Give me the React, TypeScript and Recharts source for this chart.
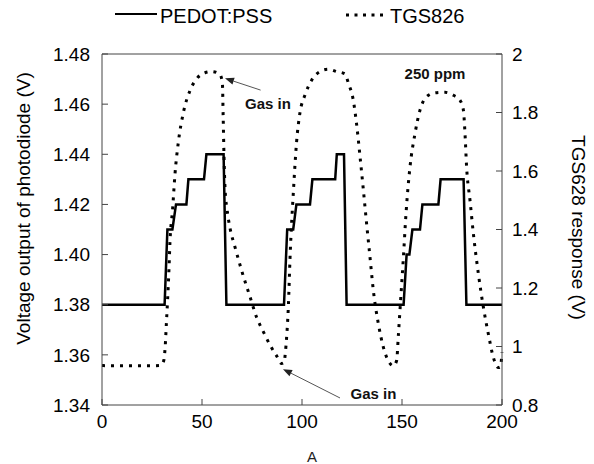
import React from "react";
import {
  ComposedChart,
  Line,
  XAxis,
  YAxis,
  Legend,
  ReferenceLine,
  ReferenceDot,
} from "recharts";

const FONT = "Arial, 'Liberation Sans', Helvetica, sans-serif";

// PEDOT:PSS photodiode output (left axis, V)
const pedotTime = [
  0, 31.3, 32.7, 35.2, 37, 42.2, 43.2, 51, 52.2, 60.8, 62.2,
  91, 92.6, 95.6, 97.2, 104, 105.2, 116.6, 117.4, 121, 122.3,
  150.8, 152.3, 153.7, 155.2, 159, 160.2, 168.2, 169.3, 180.8, 182.2, 200,
];
const pedotVolt = [
  1.38, 1.38, 1.41, 1.41, 1.42, 1.42, 1.43, 1.43, 1.44, 1.44, 1.38,
  1.38, 1.41, 1.41, 1.42, 1.42, 1.43, 1.43, 1.44, 1.44, 1.38,
  1.38, 1.4, 1.4, 1.41, 1.41, 1.42, 1.42, 1.43, 1.43, 1.38, 1.38,
];

// TGS826 response (right axis, V)
const tgsTime = [
  0, 5, 10, 15, 20, 25, 29, 30.8, 31.6, 32.2,
  32.8, 33.4, 34, 35.3, 36.5, 38.2, 40.7, 44, 47.3, 51.5,
  54.8, 59, 60.2, 60.6, 61, 61.6, 62.5, 64, 66.5, 69.8,
  74, 77.3, 80.7, 84, 87.3, 89.8, 91, 91.7, 92.3, 93.2,
  94, 95.7, 97.3, 99, 101.5, 104.8, 109, 113.2, 117.3, 121.5,
  123.2, 125.7, 127.3, 129, 130.7, 132.3, 134, 135.7, 138.2, 140.7,
  143.7, 145.7, 147.3, 148.2, 149.3, 150.7, 152, 154, 156.5, 159,
  162.3, 166.5, 171.5, 175.7, 179, 180.7, 181.5, 182.3, 184, 185.7,
  188.2, 190.7, 193.2, 195.7, 198.2, 199.2, 200,
];
const tgsResp = [
  0.935, 0.934, 0.934, 0.934, 0.934, 0.934, 0.935, 0.95, 1.0, 1.08,
  1.16, 1.25, 1.36, 1.47, 1.59, 1.7, 1.8, 1.875, 1.915, 1.936,
  1.94, 1.93, 1.9, 1.78, 1.65, 1.53, 1.47, 1.405, 1.34, 1.26,
  1.17, 1.1, 1.05, 1.005, 0.968, 0.942, 0.945, 0.98, 1.03, 1.14,
  1.3, 1.53, 1.7, 1.8, 1.86, 1.91, 1.94, 1.948, 1.94, 1.932,
  1.9, 1.84, 1.76, 1.65, 1.534, 1.42, 1.305, 1.19, 1.077, 0.997,
  0.945, 0.934, 0.951, 1.04, 1.157, 1.305, 1.454, 1.614, 1.728, 1.808,
  1.854, 1.867, 1.869, 1.859, 1.842, 1.808, 1.728, 1.614, 1.5, 1.385,
  1.248, 1.134, 1.042, 0.962, 0.928, 0.93, 0.98,
];

const timeTicks = [0, 50, 100, 150, 200];
const voltTicks = [1.34, 1.36, 1.38, 1.4, 1.42, 1.44, 1.46, 1.48];
const respTicks = [0.8, 1, 1.2, 1.4, 1.6, 1.8, 2];
const seriesNames = ["PEDOT:PSS", "TGS826"];

const pedot = pedotTime.map((t, i) => ({ t, v: pedotVolt[i] }));
const tgs = tgsTime.map((t, i) => ({ t, v: tgsResp[i] }));

const FRAME = "#444";
const tickStyle = { fill: "#000", fontSize: 19, fontFamily: FONT };

const Arrow = (p: any) => {
  const { x1, y1, x2, y2 } = p;
  const ang = Math.atan2(y2 - y1, x2 - x1);
  const L = 9;
  const W = 3.5;
  const bx = x2 - L * Math.cos(ang);
  const by = y2 - L * Math.sin(ang);
  const pts = [
    [x2, y2],
    [bx + W * Math.sin(ang), by - W * Math.cos(ang)],
    [bx - W * Math.sin(ang), by + W * Math.cos(ang)],
  ]
    .map((q) => q.join(","))
    .join(" ");
  return (
    <g>
      <line x1={x1} y1={y1} x2={bx} y2={by} stroke="#555" strokeWidth={1} />
      <polygon points={pts} fill="#222" />
    </g>
  );
};

const note = (txt: string) => (p: any) => (
  <text
    x={p.cx}
    y={p.cy}
    textAnchor="middle"
    dominantBaseline="central"
    fontFamily={FONT}
    fontSize={15}
    fontWeight="bold"
    fill="#111"
  >
    {txt}
  </text>
);

const renderLegend = () => (
  <svg width={594} height={30} style={{ display: "block" }}>
    <line x1={115} y1={14} x2={157} y2={14} stroke="#000" strokeWidth={2} />
    <text x={160} y={15.5} dominantBaseline="central" fontFamily={FONT} fontSize={20} fill="#000">
      {seriesNames[0]}
    </text>
    <line x1={346} y1={15} x2={386} y2={15} stroke="#000" strokeWidth={3} strokeDasharray="3 5.5" />
    <text x={390} y={15.5} dominantBaseline="central" fontFamily={FONT} fontSize={20} fill="#000">
      {seriesNames[1]}
    </text>
  </svg>
);

export default function App() {
  return (
    <div style={{ position: "absolute", left: 0, top: 0, background: "#fff" }}>
      <ComposedChart width={594} height={464} margin={{ top: 24, right: 0, bottom: 0, left: 0 }}>
        <Legend
          verticalAlign="middle"
          layout="horizontal"
          align="center"
          wrapperStyle={{ top: 0, left: 0, width: 594, height: 30 }}
          content={renderLegend}
        />
        <XAxis
          xAxisId="b"
          type="number"
          dataKey="t"
          domain={[0, 200]}
          ticks={timeTicks}
          height={59}
          stroke={FRAME}
          tickSize={-6}
          tickMargin={16}
          tick={tickStyle}
          label={{
            content: ({ viewBox }: any) => (
              <text
                x={viewBox.x + viewBox.width / 2 + 10}
                y={viewBox.y + 57}
                textAnchor="middle"
                fontFamily={FONT}
                fontSize={15}
                fill="#222"
              >
                A
              </text>
            ),
          }}
        />
        <XAxis
          xAxisId="t"
          orientation="top"
          type="number"
          dataKey="t"
          domain={[0, 200]}
          ticks={timeTicks}
          height={30}
          stroke={FRAME}
          tickSize={-6}
          tick={false}
        />
        <YAxis
          yAxisId="l"
          domain={[1.34, 1.48]}
          ticks={voltTicks}
          width={102}
          stroke={FRAME}
          tickSize={-6}
          tickMargin={18}
          tick={tickStyle}
          tickFormatter={(v: number) => v.toFixed(2)}
          label={{
            content: ({ viewBox }: any) => {
              const x = viewBox.x + 23;
              const y = viewBox.y + viewBox.height / 2 - 21;
              return (
                <text
                  x={x}
                  y={y}
                  transform={`rotate(-90 ${x} ${y})`}
                  textAnchor="middle"
                  dominantBaseline="central"
                  fontFamily={FONT}
                  fontSize={19}
                  fill="#000"
                >
                  Voltage output of photodiode (V)
                </text>
              );
            },
          }}
        />
        <YAxis
          yAxisId="r"
          orientation="right"
          domain={[0.8, 2]}
          ticks={respTicks}
          width={92}
          stroke={FRAME}
          tickSize={-6}
          tickMargin={16}
          tick={tickStyle}
          tickFormatter={(v: number) => String(Number(v.toFixed(1)))}
          label={{
            content: ({ viewBox }: any) => {
              const x = viewBox.x + 76;
              const y = viewBox.y + viewBox.height / 2 - 2;
              return (
                <text
                  x={x}
                  y={y}
                  transform={`rotate(90 ${x} ${y})`}
                  textAnchor="middle"
                  dominantBaseline="central"
                  fontFamily={FONT}
                  fontSize={19}
                  fill="#000"
                >
                  TGS628 response (V)
                </text>
              );
            },
          }}
        />

        <Line
          xAxisId="b"
          yAxisId="l"
          data={pedot}
          dataKey="v"
          name={seriesNames[0]}
          type="linear"
          stroke="#000"
          strokeWidth={2.5}
          dot={false}
          isAnimationActive={false}
        />
        <Line
          xAxisId="b"
          yAxisId="r"
          data={tgs}
          dataKey="v"
          name={seriesNames[1]}
          type="monotone"
          stroke="#000"
          strokeWidth={3}
          strokeDasharray="3 6"
          dot={false}
          isAnimationActive={false}
        />

        {/* annotations */}
        <ReferenceLine
          xAxisId="b"
          yAxisId="l"
          segment={[{ x: 79.3, y: 1.4656 }, { x: 61.5, y: 1.4703 }]}
          shape={Arrow}
        />
        <ReferenceLine
          xAxisId="b"
          yAxisId="l"
          segment={[{ x: 119, y: 1.3428 }, { x: 90.5, y: 1.3543 }]}
          shape={Arrow}
        />
        <ReferenceDot xAxisId="b" yAxisId="l" x={83} y={1.4604} r={0} shape={note("Gas in")} />
        <ReferenceDot xAxisId="b" yAxisId="l" x={135.75} y={1.3444} r={0} shape={note("Gas in")} />
        <ReferenceDot xAxisId="b" yAxisId="l" x={166.5} y={1.4724} r={0} shape={note("250 ppm")} />
      </ComposedChart>
    </div>
  );
}
